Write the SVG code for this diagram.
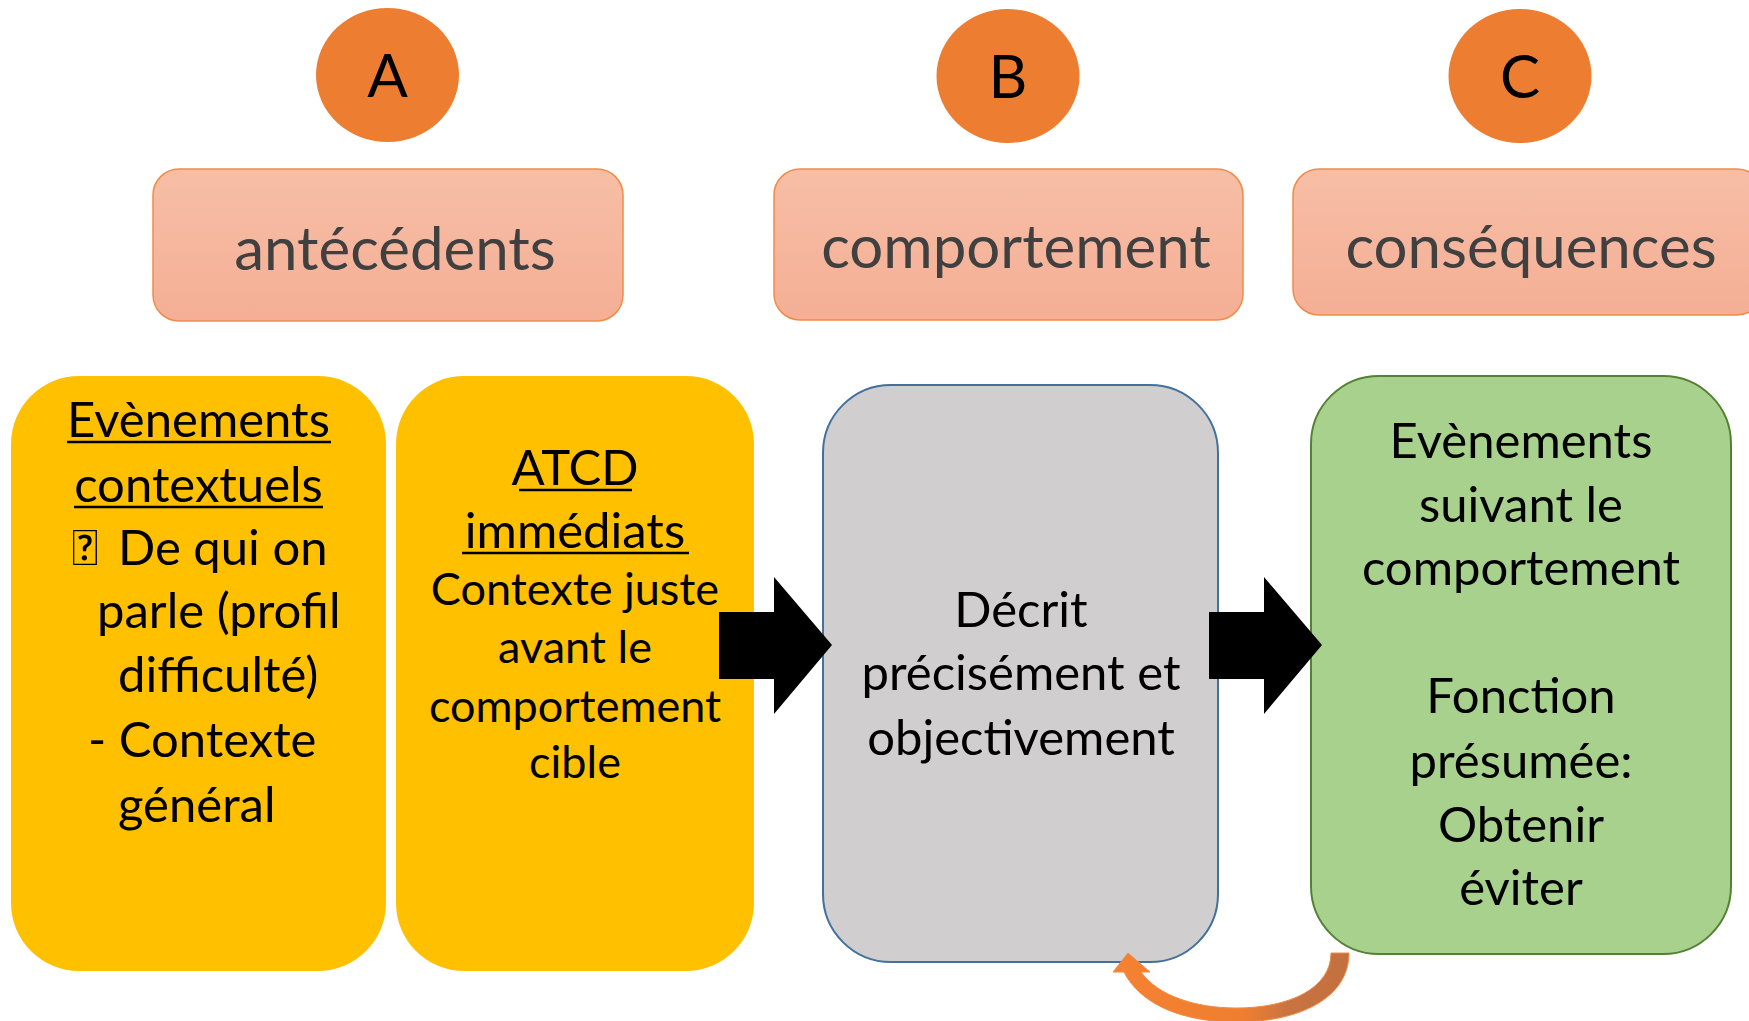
<svg xmlns="http://www.w3.org/2000/svg" width="1749" height="1021" viewBox="0 0 1749 1021">
  <style>
    .lbl { font-family: Lato, "Open Sans", "Liberation Sans", sans-serif; }
    .circ { fill: #ed7d31; }
    .letter { font-size: 60px; fill: #000; text-anchor: middle; }
    .hdr { stroke: #f08c48; stroke-width: 1.5; fill: url(#hdrGrad); }
    .htxt { font-size: 60px; fill: #404040; text-anchor: middle; }
    .yel { fill: #ffc000; }
    .body { font-size: 49px; fill: #000; }
    .mid { text-anchor: middle; }
    .small { font-size: 45px; }
    .ul { stroke: #000; stroke-width: 2.5; }
    .arrow { fill: #000; }
  </style>
  <defs>
    <linearGradient id="hdrGrad" x1="0" y1="0" x2="0" y2="1">
      <stop offset="0" stop-color="#f7bea6"/>
      <stop offset="1" stop-color="#f4af95"/>
    </linearGradient>
    <linearGradient id="curveGrad" x1="1110" y1="0" x2="1350" y2="0" gradientUnits="userSpaceOnUse">
      <stop offset="0" stop-color="#f58232"/>
      <stop offset="0.55" stop-color="#f07e30"/>
      <stop offset="0.75" stop-color="#c87341"/>
      <stop offset="1" stop-color="#c3703f"/>
    </linearGradient>
  </defs>
  <rect width="1749" height="1021" fill="#ffffff"/>

  <g id="circle-A">
    <ellipse class="circ" cx="387.5" cy="75" rx="71.5" ry="67"/>
    <text class="lbl letter" x="387.5" y="97">A</text>
  </g>
  <g id="circle-B">
    <ellipse class="circ" cx="1008" cy="76" rx="71.5" ry="67"/>
    <text class="lbl letter" x="1008" y="98">B</text>
  </g>
  <g id="circle-C">
    <ellipse class="circ" cx="1520" cy="76" rx="71.5" ry="67"/>
    <text class="lbl letter" x="1520" y="98">C</text>
  </g>

  <g id="hdr-antecedents">
    <rect class="hdr" x="153" y="169" width="470" height="152" rx="26"/>
    <text class="lbl htxt" x="395" y="270">antécédents</text>
  </g>
  <g id="hdr-comportement">
    <rect class="hdr" x="774" y="169" width="469" height="151" rx="26"/>
    <text class="lbl htxt" x="1016" y="268">comportement</text>
  </g>
  <g id="hdr-consequences">
    <rect class="hdr" x="1293" y="169" width="470" height="146" rx="26"/>
    <text class="lbl htxt" x="1531" y="268">conséquences</text>
  </g>

  <g id="box-evenements-contextuels">
    <rect class="yel" x="11" y="376" width="375" height="595" rx="68"/>
    <text class="lbl body mid" x="198.5" y="437">Evènements</text>
    <line class="ul" x1="67" y1="442" x2="331" y2="442"/>
    <text class="lbl body mid" x="198.5" y="502">contextuels</text>
    <line class="ul" x1="74" y1="507" x2="323" y2="507"/>
    <text class="lbl body" x="72" y="565">&#xF0D8;</text>
    <text class="lbl body" x="118" y="565">De qui on</text>
    <text class="lbl body" x="97" y="628">parle (profil</text>
    <text class="lbl body" x="118" y="692">difficulté)</text>
    <text class="lbl body" x="88" y="757">- Contexte</text>
    <text class="lbl body" x="118" y="822">général</text>
  </g>

  <g id="box-atcd">
    <rect class="yel" x="396" y="376" width="358" height="595" rx="68"/>
    <text class="lbl body mid" x="575" y="485">ATCD</text>
    <line class="ul" x1="519" y1="490" x2="632" y2="490"/>
    <text class="lbl body mid" x="575" y="548">immédiats</text>
    <line class="ul" x1="462" y1="553" x2="689" y2="553"/>
    <text class="lbl body small mid" x="575" y="605">Contexte juste</text>
    <text class="lbl body small mid" x="575" y="663">avant le</text>
    <text class="lbl body small mid" x="575" y="722">comportement</text>
    <text class="lbl body small mid" x="575" y="778">cible</text>
  </g>

  <g id="box-comportement">
    <rect x="823" y="385" width="395" height="577" rx="68" fill="#d0cece" stroke="#41719c" stroke-width="2"/>
    <text class="lbl body mid" x="1021" y="627">Décrit</text>
    <text class="lbl body mid" x="1021" y="690">précisément et</text>
    <text class="lbl body mid" x="1021" y="755">objectivement</text>
  </g>

  <g id="box-consequences">
    <rect x="1311" y="376" width="420" height="578" rx="68" fill="#a9d18e" stroke="#548235" stroke-width="2"/>
    <text class="lbl body mid" x="1521" y="458">Evènements</text>
    <text class="lbl body mid" x="1521" y="522">suivant le</text>
    <text class="lbl body mid" x="1521" y="585">comportement</text>
    <text class="lbl body mid" x="1521" y="713">Fonction</text>
    <text class="lbl body mid" x="1521" y="778">présumée:</text>
    <text class="lbl body mid" x="1521" y="842">Obtenir</text>
    <text class="lbl body mid" x="1521" y="905">éviter</text>
  </g>

  <g id="connectors">
    <polygon class="arrow" points="719,612 774,612 774,577 832,645 774,714 774,679 719,679"/>
    <polygon class="arrow" points="1209,612 1264,612 1264,577 1322,645 1264,714 1264,679 1209,679"/>
    <path d="M1349,953 C1349,998 1300,1022 1236,1022 C1182,1022 1140,1004 1124,972 L1113,972 L1128,953 L1150,972 L1141,972 C1158,996 1196,1008 1236,1008 C1290,1008 1331,988 1331,953 Z" fill="url(#curveGrad)" stroke="#f08c48" stroke-width="1"/>
  </g>
</svg>
